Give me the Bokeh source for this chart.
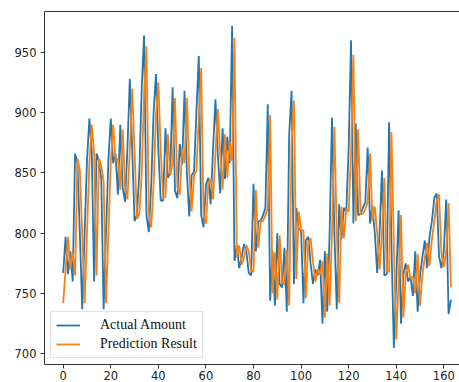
from bokeh.plotting import figure
from bokeh.models import Range1d, FixedTicker, LinearAxis, Legend, LegendItem, ColumnDataSource
from bokeh.embed import file_html
from bokeh.resources import INLINE

actual = [767, 797, 766, 785, 760, 866, 858, 800, 737, 800,
          860, 895, 868, 760, 866, 860, 845, 737, 800, 860,
          895, 858, 866, 832, 890, 838, 826, 870, 928, 870,
          810, 815, 850, 920, 964, 815, 801, 840, 900, 932,
          870, 827, 827, 887, 846, 850, 921, 835, 829, 874,
          857, 918, 850, 814, 848, 851, 900, 947, 815, 805,
          840, 846, 824, 870, 911, 865, 833, 887, 845, 880,
          858, 972, 777, 790, 771, 780, 791, 785, 767, 765,
          841, 785, 810, 810, 815, 821, 907, 744, 785, 740,
          800, 758, 755, 788, 735, 882, 918, 758, 821, 803,
          803, 742, 794, 797, 775, 758, 770, 765, 778, 725,
          785, 735, 800, 896, 800, 737, 824, 795, 821, 818,
          870, 960, 808, 891, 815, 816, 821, 826, 871, 808,
          823, 800, 767, 800, 852, 765, 766, 892, 790, 705,
          760, 819, 725, 766, 775, 760, 764, 748, 785, 735,
          765, 780, 794, 771, 797, 810, 829, 833, 781, 771,
          785, 828, 733, 745]

prediction = [742, 770, 797, 770, 784, 765, 862, 852, 800, 742,
              800, 858, 890, 866, 765, 862, 856, 843, 742, 800,
              858, 890, 860, 862, 836, 886, 838, 828, 868, 920,
              868, 812, 816, 850, 915, 955, 815, 805, 840, 898,
              925, 868, 829, 830, 882, 848, 858, 912, 838, 832,
              870, 858, 912, 850, 818, 848, 852, 896, 937, 815,
              808, 842, 845, 828, 866, 903, 866, 836, 882, 846,
              876, 860, 962, 780, 790, 774, 780, 790, 785, 769,
              768, 836, 788, 810, 810, 815, 821, 898, 750, 784,
              745, 798, 760, 757, 786, 740, 876, 910, 762, 818,
              803, 802, 746, 792, 796, 776, 760, 770, 766, 777,
              730, 783, 740, 800, 888, 800, 742, 822, 796, 820,
              818, 868, 948, 810, 886, 816, 816, 820, 826, 866,
              810, 822, 800, 770, 800, 846, 768, 768, 884, 790,
              712, 760, 815, 730, 766, 774, 762, 764, 750, 783,
              740, 765, 780, 792, 773, 795, 810, 827, 832, 783,
              772, 785, 825, 755]

x_ticks = [0, 20, 40, 60, 80, 100, 120, 140, 160]
y_ticks = [700, 750, 800, 850, 900, 950]
labels = ["Actual Amount", "Prediction Result"]

idx = list(range(len(actual)))
src = ColumnDataSource(dict(x=idx, actual=actual, pred=prediction))

p = figure(width=459, height=382, output_backend="svg", toolbar_location=None,
           x_range=Range1d(-7.86, 166.6), y_range=Range1d(691.2, 983.8),
           min_border_left=44, min_border_right=0, min_border_top=11, min_border_bottom=0)
p.outline_line_color = None
p.grid.visible = False
p.background_fill_color = "white"
p.border_fill_color = "white"

for ax, ticks in ((p.xaxis[0], x_ticks), (p.yaxis[0], y_ticks)):
    ax.ticker = FixedTicker(ticks=ticks)
    ax.major_label_text_font = "DejaVu Sans"
    ax.major_label_text_font_size = "11.5px"
    ax.major_label_text_color = "#222222"
    ax.major_tick_out = 4
    ax.major_tick_in = 0
    ax.minor_tick_out = 0
    ax.minor_tick_in = 0
    ax.axis_line_color = "#333333"
    ax.major_tick_line_color = "#333333"
p.yaxis[0].major_label_standoff = 4
p.xaxis[0].major_label_standoff = 2

top = LinearAxis(ticker=FixedTicker(ticks=[]), major_label_text_font_size="0px",
                 major_tick_out=0, major_tick_in=0, minor_tick_out=0, minor_tick_in=0,
                 major_label_standoff=0, axis_line_color="#333333")
p.add_layout(top, "above")

r1 = p.line("x", "actual", source=src, line_color="#1f77b4", line_width=1.8)
r2 = p.line("x", "pred", source=src, line_color="#ff7f0e", line_width=1.8)

legend = Legend(items=[LegendItem(label=labels[0], renderers=[r1]),
                       LegendItem(label=labels[1], renderers=[r2])],
                location=(6, 6), label_text_font="Liberation Serif",
                label_text_font_size="14px", label_text_color="#111111",
                glyph_width=24, glyph_height=16, label_height=16,
                label_standoff=20, padding=5, spacing=3, margin=0,
                border_line_color="#cccccc", background_fill_alpha=0.8)
p.add_layout(legend)

open("out.html", "w").write(file_html(p, INLINE))
